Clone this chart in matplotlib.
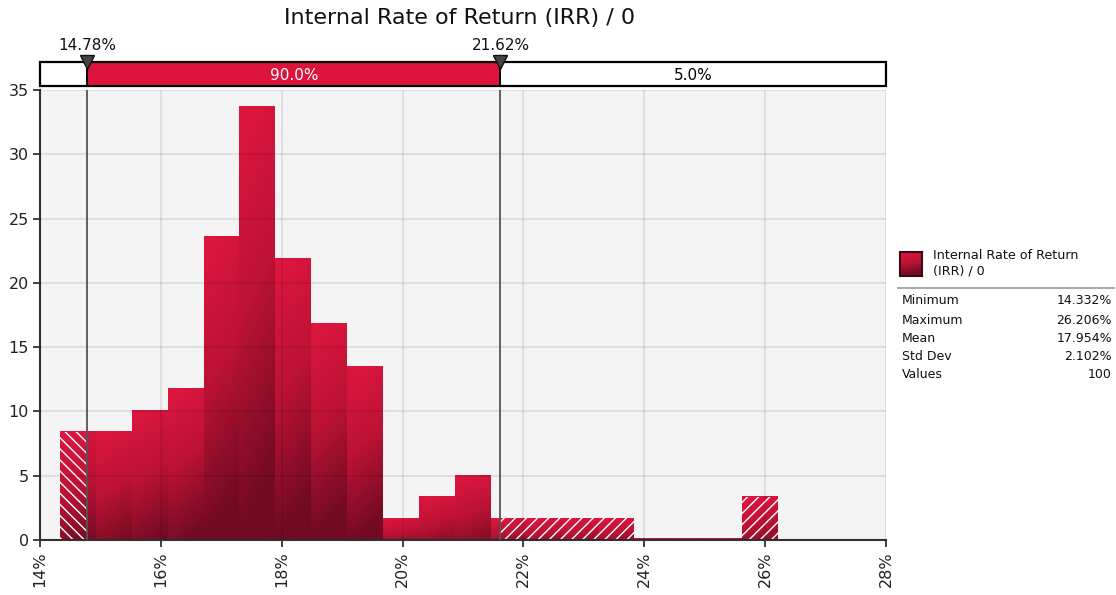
import numpy as np
import matplotlib.pyplot as plt
from matplotlib.patches import Rectangle
from matplotlib.lines import Line2D
from matplotlib.colors import LinearSegmentedColormap

# values
title = 'Internal Rate of Return (IRR) / 0'
bin_edges = [14.332, 14.926, 15.519, 16.113, 16.707, 17.300, 17.894, 18.488,
             19.082, 19.675, 20.269, 20.863, 21.456, 22.050, 22.644, 23.237,
             23.831, 24.425, 25.019, 25.612, 26.206]
heights = [8.42, 8.42, 10.11, 11.79, 23.58, 33.69, 21.90, 16.84, 13.47, 1.68,
           3.37, 5.05, 1.68, 1.68, 1.68, 1.68, 0.1, 0.1, 0.1, 3.37]
lo_mark = 14.78
hi_mark = 21.62
lo_label = '14.78%'
hi_label = '21.62%'
mid_pct = '90.0%'
right_pct = '5.0%'
x_ticks = [14, 16, 18, 20, 22, 24, 26, 28]
x_ticklabels = ['14%', '16%', '18%', '20%', '22%', '24%', '26%', '28%']
y_ticks = [0, 5, 10, 15, 20, 25, 30, 35]
legend_name = 'Internal Rate of Return\n(IRR) / 0'
stat_names = ['Minimum', 'Maximum', 'Mean', 'Std Dev', 'Values']
stat_values = ['14.332%', '26.206%', '17.954%', '2.102%', '100']

W, H = 1116, 595
crimson = '#DC143C'
cmap = LinearSegmentedColormap.from_list('irr', ['#DE1640', '#BC1234', '#720B22'])

fig = plt.figure(figsize=(W / 100, H / 100), dpi=100)
ax = fig.add_axes([40 / W, 55 / H, 846 / W, 450 / H])
ax.set_facecolor('#f4f4f4')


def gradient(h, n=60):
    v = np.linspace(0, 1, n)[:, None]
    u = np.linspace(0, 1, 10)[None, :]
    depth = 0.6 + 0.4 * min(1.0, h / 15.0)
    return np.clip(v * depth + 0.15 * u, 0, 1)


for i, h in enumerate(heights):
    x0, x1 = bin_edges[i], bin_edges[i + 1]
    ax.imshow(gradient(h), extent=[x0, x1, 0, h], aspect='auto', cmap=cmap,
              vmin=0, vmax=1, interpolation='bilinear', zorder=1)
    if x0 < lo_mark:
        ax.add_patch(Rectangle((x0, 0), min(x1, lo_mark) - x0, h, fill=False,
                               hatch='\\\\\\', edgecolor='white', lw=0, zorder=1.5))
    if x1 > hi_mark:
        xs = max(x0, hi_mark)
        ax.add_patch(Rectangle((xs, 0), x1 - xs, h, fill=False,
                               hatch='///', edgecolor='white', lw=0, zorder=1.5))

ax.grid(True, color='black', alpha=0.09, lw=1.3)
ax.set_axisbelow(False)
for m in (lo_mark, hi_mark):
    ax.axvline(m, color='#555555', lw=1.3, zorder=3)

ax.set_xlim(14, 28)
ax.set_ylim(0, 35)
ax.set_xticks(x_ticks)
ax.set_xticklabels(x_ticklabels, rotation=90)
ax.set_yticks(y_ticks)
ax.tick_params(axis='both', labelsize=11.5, colors='#333333', labelcolor='#222222',
               length=5, width=1.3, pad=3)
for s in ('top', 'right'):
    ax.spines[s].set_visible(False)
for s in ('left', 'bottom'):
    ax.spines[s].set_color('#333333')
    ax.spines[s].set_linewidth(1.5)

# top percentile bar
tax = fig.add_axes([40 / W, 1 - 86 / H, 846 / W, 24 / H])
tax.set_xlim(14, 28)
tax.set_ylim(0, 1)
tax.axis('off')
tax.add_patch(Rectangle((lo_mark, 0), hi_mark - lo_mark, 1, facecolor=crimson,
                        edgecolor='black', lw=1.4))
tax.add_patch(Rectangle((14, 0), 14, 1, fill=False, edgecolor='black', lw=1.6,
                        clip_on=False))
tax.text((lo_mark + hi_mark) / 2, 0.45, mid_pct, color='white', ha='center',
         va='center', fontsize=11)
tax.text((hi_mark + 28) / 2, 0.45, right_pct, color='black', ha='center',
         va='center', fontsize=11)
tax.plot([lo_mark, hi_mark], [1.0, 1.0], ls='none', marker='v', ms=10,
         color='#444444', mec='#111111', clip_on=False)
tax.annotate(lo_label, (lo_mark, 1), xytext=(0, 12), textcoords='offset points',
             ha='center', va='center', fontsize=11, color='#111111')
tax.annotate(hi_label, (hi_mark, 1), xytext=(0, 12), textcoords='offset points',
             ha='center', va='center', fontsize=11, color='#111111')

fig.text(460 / W, 1 - 18 / H, title, ha='center', va='center', fontsize=16,
         color='#111111')

# legend and statistics
sax = fig.add_axes([900 / W, 1 - 276 / H, 22 / W, 24 / H])
sax.imshow(gradient(20), aspect='auto', cmap=cmap, vmin=0, vmax=1,
           interpolation='bilinear')
sax.set_xticks([])
sax.set_yticks([])
for s in sax.spines.values():
    s.set_color('#3a0a12')
    s.set_linewidth(1.5)
fig.text(933 / W, 1 - 263 / H, legend_name, ha='left', va='center', fontsize=9.2,
         color='#111111', linespacing=1.2)
fig.add_artist(Line2D([898 / W, 1114 / W], [1 - 288 / H] * 2, color='#999999', lw=1.2))
row_y = [301, 320, 338, 357, 375]
for name, val, y in zip(stat_names, stat_values, row_y):
    fig.text(902 / W, 1 - y / H, name, ha='left', va='center', fontsize=9, color='#111111')
    fig.text(1112 / W, 1 - y / H, val, ha='right', va='center', fontsize=9, color='#111111')

fig.savefig('out.png', dpi=100)
